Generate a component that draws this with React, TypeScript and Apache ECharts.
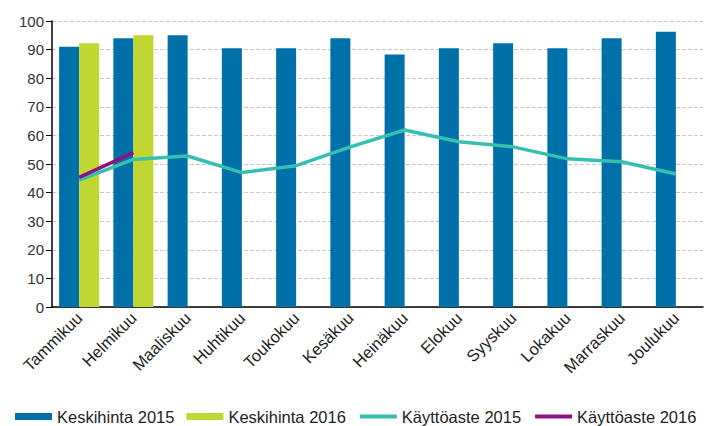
import React, { useEffect, useRef } from "react";
import * as echarts from "echarts";

const months = [
  "Tammikuu", "Helmikuu", "Maaliskuu", "Huhtikuu", "Toukokuu", "Kesäkuu",
  "Heinäkuu", "Elokuu", "Syyskuu", "Lokakuu", "Marraskuu", "Joulukuu",
];
const keskihinta2015 = [91, 94, 95, 90.5, 90.5, 94, 88.3, 90.5, 92.2, 90.5, 94, 96.2];
const keskihinta2016: (number | string)[] = [92.2, 95, "-", "-", "-", "-", "-", "-", "-", "-", "-", "-"];
const kayttoaste2015 = [44.4, 51.6, 52.8, 47, 49.4, 56, 61.9, 57.8, 56, 51.8, 50.8, 46.5];
const kayttoaste2016: (number | string)[] = [45.3, 54, "-", "-", "-", "-", "-", "-", "-", "-", "-", "-"];
const yTicks = { min: 0, max: 100, interval: 10 };

const FONT = "Arial, 'Liberation Sans', sans-serif";

export default function App() {
  const ref = useRef<HTMLDivElement>(null);
  useEffect(() => {
    if (!ref.current) return;
    const chart = echarts.init(ref.current, undefined, { renderer: "svg" });
    chart.setOption({
      animation: false,
      backgroundColor: "#ffffff",
      grid: { left: 52, right: 1, top: 21, bottom: 119, containLabel: false },
      legend: {
        left: 15,
        top: 408,
        width: 689,
        padding: 0,
        itemWidth: 37,
        itemHeight: 7,
        itemGap: 12,
        textStyle: { fontFamily: FONT, fontSize: 16.5, color: "#222" },
        data: [
          { name: "Keskihinta 2015", icon: "rect" },
          { name: "Keskihinta 2016", icon: "rect" },
          { name: "Käyttöaste 2015", itemStyle: { opacity: 0 }, lineStyle: { width: 4 } },
          { name: "Käyttöaste 2016", itemStyle: { opacity: 0 }, lineStyle: { width: 4 } },
        ],
      },
      xAxis: {
        type: "category",
        data: months,
        axisLine: { show: true, lineStyle: { color: "#000", width: 1.5 } },
        axisTick: { show: false },
        axisLabel: {
          rotate: 45,
          fontFamily: FONT,
          fontSize: 16.5,
          color: "#222",
          margin: 8,
          interval: 0,
        },
      },
      yAxis: {
        type: "value",
        min: yTicks.min,
        max: yTicks.max,
        interval: yTicks.interval,
        axisLine: { show: true, lineStyle: { color: "#000", width: 1.5 } },
        axisTick: { show: true, length: 6, lineStyle: { color: "#000" } },
        axisLabel: { fontFamily: FONT, fontSize: 15, color: "#333", margin: 8 },
        splitLine: { show: true, lineStyle: { color: "#c8c8d0", type: "dashed", width: 1 } },
      },
      series: [
        {
          name: "Keskihinta 2015",
          type: "bar",
          data: keskihinta2015,
          barWidth: 20,
          barGap: "0%",
          itemStyle: { color: "#0070a8" },
        },
        {
          name: "Keskihinta 2016",
          type: "bar",
          data: keskihinta2016,
          barWidth: 20,
          barGap: "0%",
          itemStyle: { color: "#bfd730" },
        },
        {
          name: "Käyttöaste 2015",
          type: "line",
          data: kayttoaste2015,
          symbol: "none",
          lineStyle: { color: "#36bfb0", width: 3.5 },
          itemStyle: { color: "#36bfb0" },
        },
        {
          name: "Käyttöaste 2016",
          type: "line",
          data: kayttoaste2016,
          symbol: "none",
          lineStyle: { color: "#8e1282", width: 3.5 },
          itemStyle: { color: "#8e1282" },
        },
      ],
    });
    return () => chart.dispose();
  }, []);
  return <div ref={ref} style={{ width: 704, height: 426, position: "absolute", left: 0, top: 0 }} />;
}
